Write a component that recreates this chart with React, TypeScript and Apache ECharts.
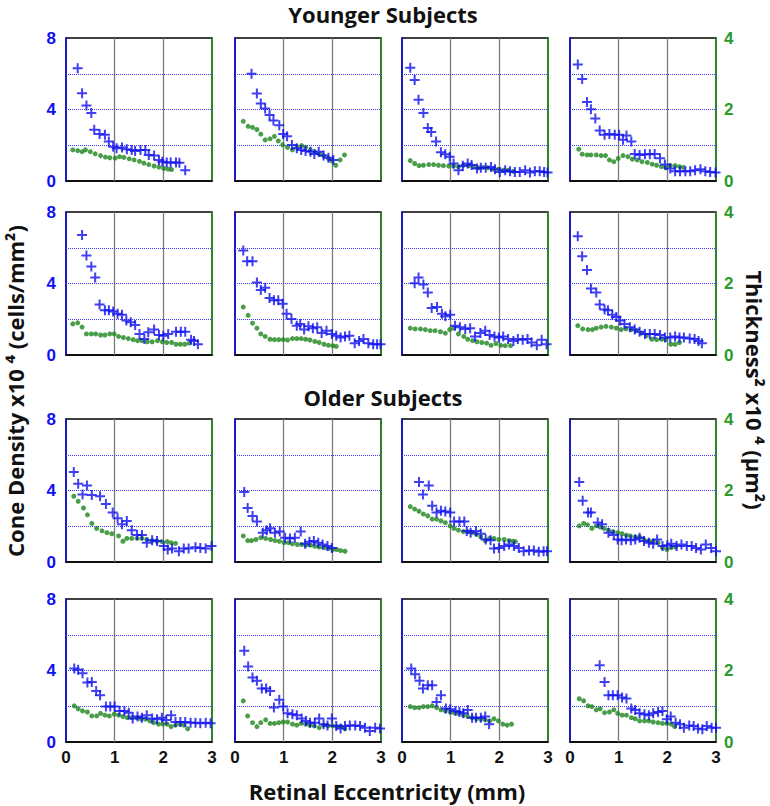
import React, { useEffect, useRef } from "react";
import * as echarts from "echarts";

// ---- Data: [eccentricity mm, value] ----
// Cone density (x10^4 cells/mm^2), left axis; Thickness^2 (x10^4 um^2), right axis
const young1Cone = [[0.24,6.31],[0.33,4.91],[0.42,4.23],[0.52,3.8],[0.58,2.87],[0.69,2.63],[0.8,2.59],[0.88,2.21],[0.97,1.91],[1.04,1.83],[1.15,1.87],[1.25,1.78],[1.35,1.74],[1.42,1.68],[1.53,1.74],[1.63,1.74],[1.7,1.46],[1.81,1.42],[1.91,1.17],[1.98,1.08],[2.07,1.04],[2.15,1.04],[2.26,1.04],[2.33,1.02],[2.45,0.6]];
const young1Thick = [[0.14,0.87],[0.24,0.85],[0.33,0.82],[0.4,0.87],[0.5,0.82],[0.6,0.76],[0.71,0.71],[0.81,0.67],[0.9,0.65],[1.01,0.64],[1.1,0.68],[1.19,0.66],[1.3,0.62],[1.4,0.59],[1.51,0.55],[1.6,0.5],[1.7,0.46],[1.81,0.42],[1.91,0.39],[2.01,0.35],[2.1,0.33],[2.17,0.32]];
const young2Cone = [[0.34,6.0],[0.45,4.9],[0.53,4.33],[0.62,4.06],[0.71,3.69],[0.79,3.38],[0.91,3.12],[0.99,2.63],[1.07,2.5],[1.17,2.02],[1.27,1.83],[1.36,1.74],[1.45,1.68],[1.55,1.64],[1.63,1.51],[1.72,1.64],[1.82,1.42],[1.92,1.3],[2.02,1.17]];
const young2Thick = [[0.17,1.67],[0.27,1.53],[0.36,1.5],[0.45,1.44],[0.53,1.31],[0.62,1.15],[0.72,1.18],[0.81,1.25],[0.89,1.12],[0.98,1.01],[1.08,0.94],[1.18,0.87],[1.27,0.96],[1.37,0.99],[1.45,0.94],[1.55,0.87],[1.65,0.8],[1.74,0.75],[1.82,0.71],[1.92,0.63],[1.99,0.56],[2.07,0.44],[2.16,0.59],[2.25,0.73]];
const young3Cone = [[0.17,6.33],[0.26,5.65],[0.34,4.54],[0.44,3.8],[0.53,2.97],[0.6,2.74],[0.7,2.21],[0.8,1.61],[0.89,1.49],[0.98,1.36],[1.06,0.98],[1.16,0.6],[1.25,0.85],[1.35,0.98],[1.43,0.89],[1.54,0.7],[1.62,0.74],[1.72,0.74],[1.83,0.79],[1.91,0.66],[2.01,0.51],[2.12,0.6],[2.22,0.55],[2.32,0.51],[2.42,0.51],[2.53,0.6],[2.63,0.47],[2.73,0.55],[2.83,0.55],[2.92,0.51],[2.99,0.47]];
const young3Thick = [[0.17,0.57],[0.26,0.49],[0.35,0.43],[0.44,0.44],[0.55,0.46],[0.65,0.46],[0.75,0.44],[0.85,0.43],[0.96,0.42],[1.06,0.42],[1.16,0.4],[1.26,0.44],[1.37,0.43],[1.47,0.4],[1.57,0.37],[1.67,0.38],[1.77,0.37],[1.88,0.33],[1.98,0.33],[2.08,0.3],[2.18,0.3],[2.29,0.27]];
const young4Cone = [[0.16,6.52],[0.25,5.71],[0.35,4.42],[0.43,4.01],[0.52,3.5],[0.61,2.82],[0.71,2.59],[0.81,2.63],[0.92,2.59],[1.01,2.59],[1.09,2.31],[1.16,2.55],[1.26,2.21],[1.33,1.51],[1.43,1.46],[1.54,1.49],[1.64,1.49],[1.74,1.51],[1.85,1.27],[1.95,0.93],[2.06,0.7],[2.16,0.55],[2.26,0.55],[2.37,0.55],[2.47,0.55],[2.57,0.6],[2.68,0.66],[2.78,0.55],[2.88,0.51],[2.99,0.47]];
const young4Thick = [[0.18,0.89],[0.25,0.75],[0.35,0.73],[0.43,0.73],[0.54,0.73],[0.64,0.71],[0.73,0.71],[0.81,0.59],[0.9,0.54],[0.99,0.63],[1.09,0.71],[1.19,0.68],[1.28,0.61],[1.38,0.59],[1.48,0.54],[1.59,0.52],[1.69,0.47],[1.78,0.44],[1.88,0.4],[1.97,0.37],[2.06,0.43],[2.16,0.43],[2.25,0.4],[2.33,0.38]];
const young5Cone = [[0.33,6.71],[0.42,5.56],[0.52,4.95],[0.6,4.33],[0.69,2.82],[0.8,2.5],[0.88,2.5],[0.97,2.44],[1.06,2.31],[1.15,2.25],[1.24,1.93],[1.33,1.83],[1.42,1.68],[1.51,1.17],[1.61,0.89],[1.69,1.27],[1.81,1.42],[1.91,1.12],[2.0,1.08],[2.1,1.17],[2.26,1.3],[2.36,1.3],[2.45,1.3],[2.57,0.85],[2.63,0.79],[2.71,0.6]];
const young5Thick = [[0.14,0.87],[0.24,0.9],[0.33,0.78],[0.42,0.59],[0.52,0.59],[0.61,0.59],[0.71,0.56],[0.8,0.56],[0.9,0.59],[0.99,0.59],[1.08,0.52],[1.18,0.49],[1.28,0.46],[1.38,0.43],[1.47,0.4],[1.56,0.4],[1.67,0.37],[1.77,0.37],[1.88,0.4],[1.98,0.37],[2.07,0.35],[2.17,0.35],[2.26,0.3],[2.35,0.3],[2.44,0.3],[2.53,0.33]];
const young6Cone = [[0.17,5.84],[0.25,5.24],[0.36,5.24],[0.45,4.06],[0.53,3.63],[0.62,3.76],[0.71,3.19],[0.8,3.06],[0.89,3.06],[0.98,2.87],[1.06,2.31],[1.16,2.02],[1.27,1.64],[1.34,1.74],[1.42,1.42],[1.51,1.61],[1.6,1.49],[1.69,1.55],[1.78,1.23],[1.88,1.36],[1.99,1.17],[2.08,1.08],[2.17,0.98],[2.26,1.04],[2.35,1.08],[2.46,0.66],[2.55,0.79],[2.64,0.89],[2.74,0.66],[2.84,0.6],[2.92,0.6],[2.99,0.6]];
const young6Thick = [[0.17,1.34],[0.27,1.11],[0.36,0.89],[0.45,0.75],[0.53,0.59],[0.62,0.52],[0.72,0.44],[0.81,0.43],[0.9,0.43],[0.99,0.43],[1.08,0.42],[1.18,0.46],[1.27,0.46],[1.36,0.46],[1.45,0.44],[1.54,0.42],[1.64,0.38],[1.73,0.35],[1.83,0.3],[1.92,0.27],[2.01,0.26],[2.08,0.24]];
const young7Cone = [[0.26,4.01],[0.34,4.33],[0.44,3.95],[0.53,3.5],[0.61,2.63],[0.72,2.68],[0.82,2.31],[0.89,2.17],[0.99,2.25],[1.09,1.64],[1.19,1.55],[1.3,1.46],[1.4,1.49],[1.5,1.04],[1.61,1.23],[1.71,1.36],[1.8,1.12],[1.9,1.04],[1.99,0.98],[2.08,1.04],[2.18,0.89],[2.29,0.79],[2.38,0.89],[2.48,0.85],[2.58,0.89],[2.66,0.7],[2.77,0.55],[2.87,0.85],[2.97,0.6]];
const young7Thick = [[0.17,0.75],[0.27,0.73],[0.38,0.73],[0.48,0.71],[0.58,0.68],[0.68,0.68],[0.79,0.65],[0.89,0.61],[0.98,0.71],[1.06,0.75],[1.16,0.59],[1.27,0.52],[1.35,0.44],[1.45,0.4],[1.54,0.37],[1.64,0.35],[1.74,0.33],[1.83,0.27],[1.93,0.32],[2.03,0.27],[2.12,0.26],[2.23,0.26]];
const young8Cone = [[0.16,6.65],[0.25,5.52],[0.35,4.76],[0.43,3.72],[0.54,3.5],[0.61,2.82],[0.71,2.55],[0.78,2.5],[0.87,2.25],[0.95,2.12],[1.03,1.93],[1.12,1.74],[1.23,1.55],[1.33,1.42],[1.43,1.3],[1.54,1.17],[1.64,1.17],[1.74,1.17],[1.85,1.12],[1.95,0.98],[2.06,0.98],[2.16,1.04],[2.25,0.98],[2.34,0.98],[2.46,0.93],[2.56,0.89],[2.64,0.79],[2.71,0.66]];
const young8Thick = [[0.16,0.82],[0.26,0.73],[0.37,0.71],[0.46,0.71],[0.54,0.75],[0.64,0.78],[0.74,0.8],[0.85,0.78],[0.95,0.75],[1.05,0.71],[1.15,0.73],[1.26,0.71],[1.36,0.68],[1.47,0.61],[1.57,0.54],[1.68,0.44],[1.78,0.43],[1.88,0.44],[1.97,0.43],[2.07,0.3],[2.16,0.3],[2.25,0.35]];

const old1Cone = [[0.16,5.04],[0.25,4.38],[0.34,3.77],[0.43,4.28],[0.53,3.75],[0.7,3.68],[0.82,3.25],[0.96,2.77],[1.06,2.45],[1.15,2.11],[1.25,2.3],[1.35,1.77],[1.46,1.51],[1.56,1.51],[1.66,1.08],[1.77,1.21],[1.87,1.17],[2.01,0.89],[2.09,0.7],[2.18,0.75],[2.32,0.6],[2.42,0.75],[2.52,0.75],[2.66,0.83],[2.76,0.79],[2.87,0.75],[2.99,0.89]];
const old1Thick = [[0.16,1.84],[0.25,1.7],[0.36,1.51],[0.44,1.32],[0.53,1.08],[0.63,0.94],[0.74,0.87],[0.84,0.82],[0.94,0.79],[1.08,0.73],[1.17,0.58],[1.25,0.66],[1.35,0.66],[1.46,0.66],[1.56,0.66],[1.66,0.63],[1.77,0.6],[1.87,0.58],[1.97,0.57],[2.08,0.57],[2.16,0.54],[2.25,0.52]];
const old2Cone = [[0.19,3.91],[0.26,3.02],[0.36,2.58],[0.45,2.26],[0.57,1.64],[0.65,1.77],[0.72,1.89],[0.82,1.64],[0.92,1.7],[1.03,1.36],[1.13,1.32],[1.23,1.36],[1.35,1.7],[1.44,1.02],[1.53,1.13],[1.62,1.17],[1.71,1.08],[1.8,0.98],[1.9,0.89],[1.99,0.79]];
const old2Thick = [[0.17,0.73],[0.26,0.6],[0.34,0.6],[0.43,0.63],[0.53,0.68],[0.63,0.66],[0.73,0.63],[0.82,0.6],[0.91,0.58],[1.01,0.54],[1.1,0.54],[1.18,0.51],[1.28,0.49],[1.37,0.49],[1.46,0.47],[1.55,0.47],[1.64,0.44],[1.73,0.42],[1.83,0.4],[1.92,0.38],[2.01,0.35],[2.09,0.35],[2.17,0.32],[2.26,0.3]];
const old3Cone = [[0.35,4.47],[0.43,3.77],[0.55,4.28],[0.62,3.15],[0.71,2.77],[0.8,2.87],[0.89,2.83],[0.99,2.77],[1.07,2.26],[1.18,2.26],[1.28,2.26],[1.33,1.74],[1.41,1.64],[1.52,1.74],[1.62,1.58],[1.72,1.26],[1.82,1.21],[1.89,0.75],[1.99,0.79],[2.1,0.89],[2.2,0.98],[2.3,0.89],[2.4,0.79],[2.5,0.6],[2.61,0.64],[2.71,0.64],[2.81,0.57],[2.91,0.6],[2.98,0.6]];
const old3Thick = [[0.17,1.55],[0.26,1.48],[0.35,1.42],[0.44,1.34],[0.53,1.29],[0.62,1.2],[0.71,1.2],[0.8,1.15],[0.89,1.1],[0.99,1.01],[1.07,0.94],[1.16,0.89],[1.26,0.85],[1.35,0.85],[1.44,0.82],[1.53,0.77],[1.62,0.7],[1.71,0.6],[1.8,0.66],[1.89,0.66],[1.99,0.63],[2.1,0.63],[2.2,0.6],[2.28,0.58],[2.33,0.57]];
const old4Cone = [[0.19,4.47],[0.26,3.43],[0.37,2.77],[0.43,2.77],[0.57,2.21],[0.66,2.11],[0.79,1.64],[0.9,1.51],[0.98,1.26],[1.06,1.21],[1.15,1.26],[1.25,1.21],[1.34,1.26],[1.43,1.36],[1.52,1.17],[1.62,1.08],[1.71,1.02],[1.79,1.26],[1.9,0.89],[2.0,0.94],[2.08,1.02],[2.19,0.89],[2.29,0.98],[2.4,0.89],[2.5,0.89],[2.59,0.79],[2.69,0.7],[2.79,0.98],[2.9,0.79],[3.0,0.6]];
const old4Thick = [[0.19,1.01],[0.28,1.08],[0.36,1.04],[0.45,0.94],[0.54,1.01],[0.62,0.98],[0.7,0.94],[0.79,0.89],[0.88,0.85],[0.98,0.82],[1.07,0.79],[1.16,0.75],[1.24,0.73],[1.34,0.7],[1.43,0.7],[1.52,0.63],[1.62,0.6],[1.71,0.58],[1.81,0.54],[1.9,0.4],[1.99,0.35],[2.08,0.4],[2.17,0.42]];
const old5Cone = [[0.17,4.11],[0.25,4.04],[0.34,3.85],[0.44,3.33],[0.53,3.36],[0.62,2.86],[0.7,2.62],[0.82,1.98],[0.91,1.98],[1.0,1.98],[1.1,1.74],[1.2,1.74],[1.29,1.64],[1.37,1.31],[1.47,1.42],[1.56,1.36],[1.66,1.5],[1.77,1.31],[1.87,1.27],[1.97,1.36],[2.06,1.23],[2.16,1.5],[2.25,1.12],[2.35,1.12],[2.45,1.12],[2.56,1.08],[2.66,1.08],[2.76,1.05],[2.87,1.08],[2.97,1.05]];
const old5Thick = [[0.17,1.01],[0.25,0.93],[0.34,0.87],[0.44,0.84],[0.53,0.73],[0.63,0.73],[0.71,0.8],[0.8,0.75],[0.89,0.73],[0.99,0.78],[1.08,0.75],[1.17,0.71],[1.26,0.68],[1.35,0.68],[1.46,0.68],[1.54,0.65],[1.63,0.64],[1.72,0.59],[1.8,0.54],[1.9,0.5],[1.99,0.5],[2.08,0.5],[2.16,0.43],[2.25,0.47],[2.34,0.5],[2.42,0.47],[2.5,0.37]];
const old6Cone = [[0.19,5.1],[0.27,4.22],[0.36,3.61],[0.45,3.42],[0.55,2.99],[0.64,2.99],[0.72,2.86],[0.8,1.93],[0.91,2.36],[0.99,1.98],[1.08,1.61],[1.18,1.55],[1.27,1.5],[1.37,1.31],[1.46,1.18],[1.54,1.08],[1.64,1.08],[1.73,1.31],[1.82,0.99],[1.9,0.93],[1.99,1.31],[2.08,0.9],[2.17,0.75],[2.26,0.9],[2.36,0.93],[2.47,0.93],[2.57,0.9],[2.67,0.8],[2.77,0.62],[2.88,0.8],[2.98,0.75]];
const old6Thick = [[0.17,1.15],[0.26,0.73],[0.36,0.54],[0.45,0.43],[0.53,0.54],[0.63,0.62],[0.72,0.52],[0.81,0.52],[0.9,0.54],[0.99,0.56],[1.08,0.56],[1.18,0.5],[1.27,0.47],[1.36,0.52],[1.45,0.5],[1.54,0.47],[1.63,0.45],[1.73,0.4],[1.82,0.47],[1.91,0.45],[2.01,0.45],[2.1,0.43],[2.18,0.43],[2.26,0.37]];
const old7Cone = [[0.19,4.11],[0.27,3.79],[0.36,3.42],[0.43,2.99],[0.53,3.18],[0.62,3.18],[0.71,2.24],[0.8,2.62],[0.9,1.87],[0.99,1.83],[1.1,1.74],[1.18,1.68],[1.26,1.61],[1.35,1.79],[1.44,1.36],[1.52,1.36],[1.62,1.36],[1.71,1.42],[1.79,0.99]];
const old7Thick = [[0.17,0.99],[0.26,0.96],[0.35,0.96],[0.44,0.99],[0.53,0.99],[0.62,1.01],[0.71,0.96],[0.8,0.9],[0.89,0.87],[0.99,0.84],[1.07,0.82],[1.16,0.8],[1.26,0.75],[1.35,0.71],[1.44,0.68],[1.53,0.65],[1.62,0.64],[1.71,0.62],[1.8,0.59],[1.89,0.65],[1.98,0.59],[2.07,0.5],[2.16,0.47],[2.25,0.5]];
const old8Cone = [[0.61,4.3],[0.71,3.36],[0.79,2.62],[0.88,2.62],[0.98,2.62],[1.07,2.49],[1.16,2.43],[1.26,1.87],[1.34,1.79],[1.43,1.61],[1.53,1.55],[1.62,1.5],[1.71,1.61],[1.81,1.68],[1.9,1.74],[1.99,1.27],[2.07,1.42],[2.17,1.08],[2.26,0.99],[2.34,0.8],[2.45,0.93],[2.54,0.9],[2.63,0.75],[2.72,0.71],[2.81,0.9],[2.91,0.8],[3.0,0.8]];
const old8Thick = [[0.19,1.21],[0.28,1.15],[0.37,1.01],[0.45,0.99],[0.54,0.9],[0.62,0.93],[0.71,0.82],[0.81,0.84],[0.9,0.9],[0.98,0.8],[1.07,0.75],[1.16,0.75],[1.26,0.68],[1.34,0.65],[1.43,0.59],[1.53,0.59],[1.62,0.59],[1.71,0.56],[1.81,0.54],[1.9,0.52],[1.99,0.52],[2.08,0.5],[2.15,0.43]];

const xTicks = [0, 1, 2, 3];
const coneTicks = [0, 4, 8];
const thickTicks = [0, 2, 4];
const gridYValues = [2, 4, 6];
const gridXValues = [1, 2];

const panels = [
  [young1Cone, young1Thick], [young2Cone, young2Thick], [young3Cone, young3Thick], [young4Cone, young4Thick],
  [young5Cone, young5Thick], [young6Cone, young6Thick], [young7Cone, young7Thick], [young8Cone, young8Thick],
  [old1Cone, old1Thick], [old2Cone, old2Thick], [old3Cone, old3Thick], [old4Cone, old4Thick],
  [old5Cone, old5Thick], [old6Cone, old6Thick], [old7Cone, old7Thick], [old8Cone, old8Thick],
];

const colLeft = [66, 235, 402, 570];
const colWidth = 146;
const rowTop = [38, 212, 419, 599];
const rowHeight = 143;

const BLUE = "#1010f0";
const GREEN = "#2a9a2a";
const DOT = "#1d861d";
const TICKFONT = "'Liberation Sans', Arial, sans-serif";
const TITLEFONT = "'Open Sans', Lato, sans-serif";
const PLUS = "path://M4,0H6V4H10V6H6V10H4V6H0V4H4Z";

export default function App() {
  const ref = useRef<HTMLDivElement>(null);
  useEffect(() => {
    if (!ref.current) return;
    const chart = echarts.init(ref.current, null, { renderer: "svg" });
    const grid: any[] = [];
    const xAxis: any[] = [];
    const yAxis: any[] = [];
    const series: any[] = [];
    panels.forEach(([cone, thick], i) => {
      const r = Math.floor(i / 4);
      const c = i % 4;
      grid.push({
        left: colLeft[c], top: rowTop[r], width: colWidth, height: rowHeight,
        show: true, borderColor: "#000", borderWidth: 1.5, backgroundColor: "#fff",
      });
      xAxis.push({
        gridIndex: i, type: "value", min: xTicks[0], max: xTicks[xTicks.length - 1], interval: 1,
        axisLine: { show: true, lineStyle: { color: "#000", width: 1.5 } },
        axisTick: { show: false }, splitLine: { show: false },
        axisLabel: {
          show: r === 3, color: "#111", fontFamily: TICKFONT, fontWeight: "bold", fontSize: 17, margin: 7,
        },
      });
      yAxis.push({
        gridIndex: i, type: "value", min: coneTicks[0], max: coneTicks[coneTicks.length - 1], interval: 4,
        position: "left",
        axisLine: { show: true, lineStyle: { color: BLUE, width: 1.5 } },
        axisTick: { show: false }, splitLine: { show: false },
        axisLabel: {
          show: c === 0, color: BLUE, fontFamily: TICKFONT, fontWeight: "bold", fontSize: 17, margin: 10,
        },
      });
      yAxis.push({
        gridIndex: i, type: "value", min: thickTicks[0], max: thickTicks[thickTicks.length - 1], interval: 2,
        position: "right",
        axisLine: { show: true, lineStyle: { color: GREEN, width: 1.5 } },
        axisTick: { show: false }, splitLine: { show: false },
        axisLabel: {
          show: c === 3, color: GREEN, fontFamily: TICKFONT, fontWeight: "bold", fontSize: 17, margin: 8,
        },
      });
      series.push({
        type: "scatter", xAxisIndex: i, yAxisIndex: 2 * i + 1, data: thick,
        symbol: "circle", symbolSize: 5, itemStyle: { color: DOT }, z: 3, silent: true,
        markLine: {
          silent: true, symbol: "none", label: { show: false }, z: 1,
          data: gridXValues.map((v) => ({ xAxis: v, lineStyle: { color: "#7a7a7a", width: 1.3, type: "solid" } })),
        },
      });
      series.push({
        type: "scatter", xAxisIndex: i, yAxisIndex: 2 * i, data: cone,
        symbol: PLUS, symbolSize: 10, itemStyle: { color: BLUE }, z: 4, silent: true,
        markLine: {
          silent: true, symbol: "none", label: { show: false }, z: 1,
          data: gridYValues.map((v) => ({ yAxis: v, lineStyle: { color: "#3a3aff", width: 1, type: "dotted" } })),
        },
      });
    });

    const titleStyle = (text: string) => ({
      text, font: `bold 22px ${TITLEFONT}`, lineHeight: 22, fill: "#111", align: "center", verticalAlign: "middle",
    });
    chart.setOption({
      animation: false,
      backgroundColor: "#fff",
      grid, xAxis, yAxis, series,
      graphic: [
        { type: "text", x: 383, y: 14, style: titleStyle("Younger Subjects") },
        { type: "text", x: 383, y: 397, style: titleStyle("Older Subjects") },
        { type: "text", x: 387, y: 791, style: titleStyle("Retinal Eccentricity (mm)") },
        { type: "text", x: 15, y: 391, rotation: Math.PI / 2, style: titleStyle("Cone Density x10 \u2074 (cells/mm\u00B2)") },
        { type: "text", x: 755, y: 390, rotation: -Math.PI / 2, style: titleStyle("Thickness\u00B2 x10 \u2074 (\u00B5m\u00B2)") },
      ],
    });
    return () => chart.dispose();
  }, []);
  return <div ref={ref} style={{ position: "absolute", left: 0, top: 0, width: 770, height: 806 }} />;
}
